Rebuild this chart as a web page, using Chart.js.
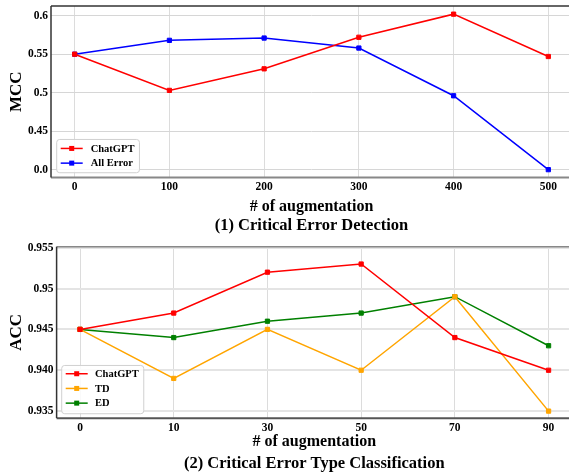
<!DOCTYPE html>
<html>
<head>
<meta charset="utf-8">
<script src="https://cdn.jsdelivr.net/npm/chart.js@4.4.1/dist/chart.umd.min.js"></script>
<style>
    html, body { margin: 0; padding: 0; background: #fff; overflow: hidden; }
    canvas { position: absolute; left: 0; }
    #cedChart { top: 0; }
    #cetcChart { top: 240px; }
</style>
</head>
<body>
<canvas id="cedChart" width="572" height="240"></canvas>
<canvas id="cetcChart" width="572" height="235"></canvas>
<script>
// ===== Data =====
// (1) Critical Error Detection
const cedLabels = ['0', '100', '200', '300', '400', '500'];
const cedChatGPT = [0.550, 0.503, 0.531, 0.572, 0.602, 0.547];
const cedAllError = [0.550, 0.568, 0.571, 0.558, 0.496, 0.0];
// y axis is broken: the bottom tick stands for 0.0
const cedTickValues = [0.40, 0.45, 0.50, 0.55, 0.60];
const cedTickLabels = ['0.0', '0.45', '0.5', '0.55', '0.6'];

// (2) Critical Error Type Classification
const cetcLabels = ['0', '10', '30', '50', '70', '90'];
const cetcChatGPT = [0.945, 0.947, 0.952, 0.953, 0.944, 0.940];
const cetcTD = [0.945, 0.939, 0.945, 0.940, 0.949, 0.935];
const cetcED = [0.945, 0.944, 0.946, 0.947, 0.949, 0.943];
const cetcTickValues = [0.935, 0.940, 0.945, 0.950, 0.955];
const cetcTickLabels = ['0.935', '0.940', '0.945', '0.95', '0.955'];

const SERIF = '"Liberation Serif", "Times New Roman", serif';

// values under the axis break are drawn on the "0.0" tick
function toBrokenAxis(v) {
    return v < cedTickValues[0] ? cedTickValues[0] : v;
}

function toPoints(values, mapFn) {
    return values.map((v, i) => ({ x: i, y: mapFn ? mapFn(v) : v }));
}

function makeDataset(label, values, color, mapFn) {
    return {
        label: label,
        data: toPoints(values, mapFn),
        borderColor: color,
        backgroundColor: color,
        borderWidth: 1.5,
        pointStyle: 'rect',
        pointRadius: 3,
        pointBorderWidth: 1,
        tension: 0
    };
}

// ===== Plugins =====
// spines like matplotlib: top, left, bottom
const framePlugin = {
    id: 'frame',
    afterDatasetsDraw(chart, args, opts) {
        const { ctx, chartArea: a } = chart;
        ctx.save();
        const line = (x1, y1, x2, y2, color, w) => {
            ctx.strokeStyle = color;
            ctx.lineWidth = w;
            ctx.beginPath();
            ctx.moveTo(x1, y1);
            ctx.lineTo(x2, y2);
            ctx.stroke();
        };
        line(a.left, a.top, a.right, a.top, opts.top, 1.5);
        line(a.left, a.bottom, a.right, a.bottom, opts.bottom, 2);
        line(a.left, a.top, a.left, a.bottom, opts.left, 1.5);
        ctx.restore();
    }
};

// legend box inside the plot, lower left corner
const innerLegendPlugin = {
    id: 'innerLegend',
    afterDraw(chart, args, opts) {
        const { ctx, chartArea: a } = chart;
        const sets = chart.data.datasets;
        ctx.save();
        ctx.font = 'bold 10.5px ' + SERIF;
        const maxW = Math.max(...sets.map(d => ctx.measureText(d.label).width));
        const w = opts.textX + maxW + 5;
        const h = opts.padTop + opts.rowH * (sets.length - 1) + opts.padBottom;
        const x = a.left + opts.dx;
        const y = a.bottom - opts.dy - h;

        ctx.fillStyle = 'rgba(255,255,255,0.85)';
        ctx.strokeStyle = '#d0d0d0';
        ctx.lineWidth = 1;
        ctx.beginPath();
        ctx.roundRect(x, y, w, h, 3);
        ctx.fill();
        ctx.stroke();

        sets.forEach((d, i) => {
            const cy = y + opts.padTop + i * opts.rowH;
            ctx.strokeStyle = d.borderColor;
            ctx.lineWidth = 1.5;
            ctx.beginPath();
            ctx.moveTo(x + 4, cy);
            ctx.lineTo(x + 26, cy);
            ctx.stroke();
            ctx.fillStyle = d.borderColor;
            ctx.fillRect(x + 15 - 2.5, cy - 2.5, 5, 5);
            ctx.fillStyle = '#000';
            ctx.textAlign = 'left';
            ctx.textBaseline = 'middle';
            ctx.fillText(d.label, x + opts.textX, cy + 0.5);
        });
        ctx.restore();
    }
};

// ===== Chart builder =====
function buildChart(canvasId, cfg) {
    const canvas = document.getElementById(canvasId);
    const tickFont = { family: SERIF, size: 11.5, weight: 'bold' };
    return new Chart(canvas, {
        type: 'line',
        data: { datasets: cfg.datasets },
        options: {
            responsive: false,
            animation: false,
            layout: {
                autoPadding: false,
                padding: { top: cfg.padTop, left: 0, right: 0, bottom: 0 }
            },
            plugins: {
                legend: { display: false },
                tooltip: { enabled: false },
                title: {
                    display: true,
                    text: cfg.title,
                    position: 'bottom',
                    fullSize: false,
                    color: '#000',
                    font: { family: SERIF, size: 16.5, weight: 'bold', lineHeight: 1.125 },
                    padding: { top: 0, bottom: cfg.titleBottom }
                },
                frame: cfg.frame,
                innerLegend: cfg.legend
            },
            scales: {
                x: {
                    type: 'linear',
                    min: -0.25,
                    max: cfg.xLabels.length - 0.75,
                    afterBuildTicks: s => { s.ticks = cfg.xLabels.map((_, i) => ({ value: i })); },
                    afterFit: s => {
                        s.height = cfg.xHeight;
                        s.paddingLeft = 0;
                        s.paddingRight = 0;
                    },
                    grid: { color: '#dcdcdc', lineWidth: 1, drawTicks: false },
                    border: { display: false },
                    ticks: {
                        padding: 3,
                        color: '#000',
                        font: tickFont,
                        maxRotation: 0,
                        callback: v => cfg.xLabels[v]
                    },
                    title: {
                        display: true,
                        text: '# of augmentation',
                        color: '#000',
                        font: { family: SERIF, size: 16, weight: 'bold', lineHeight: 1.125 },
                        padding: { top: 0, bottom: cfg.xTitleBottom }
                    }
                },
                y: {
                    min: cfg.yMin,
                    max: cfg.yMax,
                    afterBuildTicks: s => { s.ticks = cfg.yTicks.map(v => ({ value: v })); },
                    afterFit: s => {
                        s.width = cfg.yWidth;
                        s.paddingTop = 0;
                        s.paddingBottom = 0;
                    },
                    grid: { color: cfg.yGridColor, lineWidth: cfg.yGridWidth, drawTicks: false },
                    border: { display: false },
                    ticks: {
                        padding: 3,
                        color: '#000',
                        font: tickFont,
                        callback: v => {
                            const idx = cfg.yTicks.findIndex(t => Math.abs(t - v) < 1e-9);
                            return idx >= 0 ? cfg.yTickLabels[idx] : '';
                        }
                    },
                    title: {
                        display: true,
                        text: cfg.yTitle,
                        color: '#000',
                        font: { family: SERIF, size: 17, weight: 'bold', lineHeight: 1.125 },
                        padding: { top: 7, bottom: 0 }
                    }
                }
            }
        },
        plugins: [framePlugin, innerLegendPlugin]
    });
}

// ===== Charts =====
buildChart('cedChart', {
    datasets: [
        makeDataset('ChatGPT', cedChatGPT, '#ff0000', toBrokenAxis),
        makeDataset('All Error', cedAllError, '#0000ff', toBrokenAxis)
    ],
    title: '(1) Critical Error Detection',
    xLabels: cedLabels,
    yTicks: cedTickValues,
    yTickLabels: cedTickLabels,
    yTitle: 'MCC',
    yMin: 0.3899,
    yMax: 0.6126,
    yWidth: 51,
    padTop: 6,
    xHeight: 39,
    titleBottom: 5,
    xTitleBottom: 1,
    yGridColor: '#d6d6d6',
    yGridWidth: 1,
    frame: { top: '#333', left: '#333', bottom: '#888' },
    legend: { dx: 5.7, dy: 4.7, padTop: 9, padBottom: 9.6, rowH: 14.7, textX: 34 }
});

buildChart('cetcChart', {
    datasets: [
        makeDataset('ChatGPT', cetcChatGPT, '#ff0000'),
        makeDataset('TD', cetcTD, '#ffa500'),
        makeDataset('ED', cetcED, '#008000')
    ],
    title: '(2) Critical Error Type Classification',
    xLabels: cetcLabels,
    yTicks: cetcTickValues,
    yTickLabels: cetcTickLabels,
    yTitle: 'ACC',
    yMin: 0.93414,
    yMax: 0.95512,
    yWidth: 56.6,
    padTop: 6.7,
    xHeight: 36.3,
    titleBottom: 2,
    xTitleBottom: 4,
    yGridColor: '#e4e4e4',
    yGridWidth: 2,
    frame: { top: '#888', left: '#333', bottom: '#555' },
    legend: { dx: 5.1, dy: 4.4, padTop: 8.3, padBottom: 10.6, rowH: 14.7, textX: 33.3 }
});
</script>
</body>
</html>
